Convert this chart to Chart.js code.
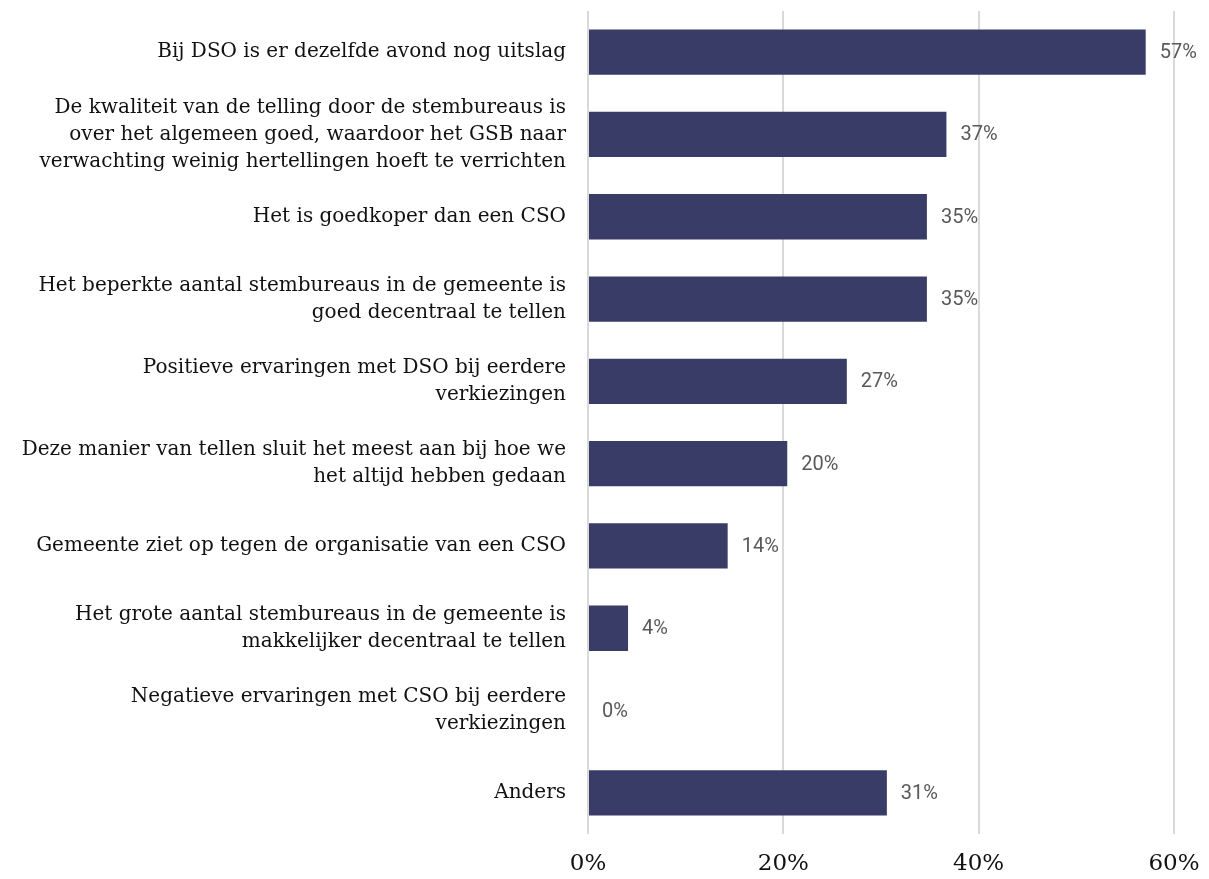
<!DOCTYPE html>
<html>
<head>
<meta charset="utf-8">
<script src="https://cdn.jsdelivr.net/npm/chart.js@4"></script>
<style>
  html, body { margin: 0; padding: 0; background: #fff; }
  #wrap { width: 1209px; height: 879px; }
</style>
</head>
<body>
<div id="wrap"><canvas id="myChart" width="1209" height="879"></canvas></div>
<script>
   // Categorieën (meerregelige labels)
   const categories = [
       ['Bij DSO is er dezelfde avond nog uitslag'],
       ['De kwaliteit van de telling door de stembureaus is', 'over het algemeen goed, waardoor het GSB naar', 'verwachting weinig hertellingen hoeft te verrichten'],
       ['Het is goedkoper dan een CSO'],
       ['Het beperkte aantal stembureaus in de gemeente is', 'goed decentraal te tellen'],
       ['Positieve ervaringen met DSO bij eerdere', 'verkiezingen'],
       ['Deze manier van tellen sluit het meest aan bij hoe we', 'het altijd hebben gedaan'],
       ['Gemeente ziet op tegen de organisatie van een CSO'],
       ['Het grote aantal stembureaus in de gemeente is', 'makkelijker decentraal te tellen'],
       ['Negatieve ervaringen met CSO bij eerdere', 'verkiezingen'],
       ['Anders']
   ];
   const percentages = [57.1, 36.7, 34.7, 34.7, 26.5, 20.4, 14.3, 4.1, 0, 30.6];
   // As-labels
   const tickValues = [0, 20, 40, 60];

   // Labels naast de balken
   const barLabels = {
       id: 'barLabels',
       afterDatasetsDraw(chart) {
           const ctx = chart.ctx;
           const meta = chart.getDatasetMeta(0);
           ctx.save();
           ctx.font = '20px Roboto';
           ctx.fillStyle = '#595959';
           ctx.textAlign = 'left';
           ctx.textBaseline = 'middle';
           meta.data.forEach((bar, i) => {
               ctx.fillText(Math.round(percentages[i]) + '%', bar.x + 14, bar.y + 1);
           });
           ctx.restore();
       }
   };

   const config = {
       type: 'bar',
       data: {
           labels: categories,
           datasets: [{
               data: percentages,
               backgroundColor: '#383c66',
               borderColor: '#383c66',
               borderWidth: 0,
               barPercentage: 0.55,
               categoryPercentage: 1
           }]
       },
       options: {
           indexAxis: 'y',
           responsive: false,
           animation: false,
           layout: { padding: { top: 11, right: 35, left: 0, bottom: 0 } },
           plugins: {
               legend: { display: false },
               tooltip: { enabled: false }
           },
           scales: {
               x: {
                   min: 0,
                   max: 60,
                   afterBuildTicks: axis => { axis.ticks = tickValues.map(v => ({ value: v })); },
                   afterFit: axis => {
                       axis.height = 45;
                       axis.paddingLeft = 0;
                       axis.paddingRight = 0;
                   },
                   grid: { color: '#d9d9d9', lineWidth: 2, drawTicks: false },
                   border: { display: false },
                   ticks: {
                       padding: 16,
                       color: '#111',
                       font: { family: 'DejaVu Serif', size: 23 },
                       callback: v => v + '%'
                   }
               },
               y: {
                   afterFit: axis => {
                       axis.width = 588;
                       axis.paddingTop = 0;
                       axis.paddingBottom = 0;
                   },
                   grid: { display: false, drawTicks: false },
                   border: { display: false },
                   ticks: {
                       padding: 22,
                       color: '#111',
                       autoSkip: false,
                       font: { family: 'DejaVu Serif', size: 20, lineHeight: 1.35 }
                   }
               }
           }
       },
       plugins: [barLabels]
   };

   const myChart = new Chart(document.getElementById('myChart'), config);
</script>
</body>
</html>
